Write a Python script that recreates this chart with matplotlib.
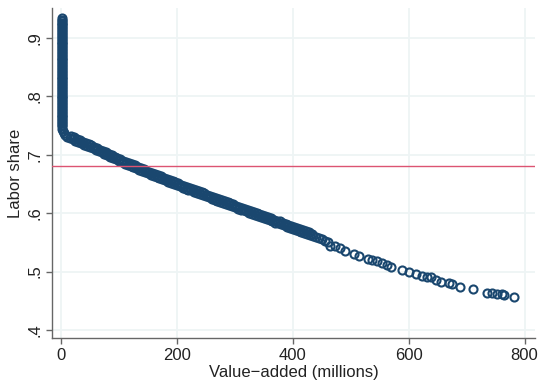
import matplotlib
matplotlib.use("Agg")
import matplotlib.pyplot as plt

# labor share against value-added, one hollow circle per firm
# near-zero firms (stacked at the left edge)
y_small = [.934, .9315, .929, .9265, .924, .9215, .919, .9165, .914, .9115,
           .909, .9065, .904, .9015, .899, .8965, .894, .8915, .889, .8865,
           .884, .8815, .879, .8765, .874, .8715, .869, .8665, .864, .8615,
           .859, .8565, .854, .8515, .849, .8465, .844, .8415, .839, .8365,
           .834, .8315, .829, .8265, .824, .8215, .819, .8165, .814, .8115,
           .809, .8065, .804, .8015, .799, .7965, .794, .7915, .789, .7865,
           .784, .7815, .779, .7765, .774, .7715, .769, .7665, .764, .7615,
           .759, .7565, .754, .7515, .749,
           .745, .741, .737, .734, .731]
x_small = [1] * 75 + [2, 3, 5, 7, 10]

# the dense band of mid-sized firms (lower edge of the band)
x_mid = [15, 20, 25, 30, 35, 40, 45, 50, 55, 60, 65, 70, 75, 80, 85, 90,
         95, 100, 105, 110, 115, 120, 125, 130, 135, 140, 145, 150, 155,
         160, 165, 170, 175, 180, 185, 190, 195, 200, 205, 210, 215, 220,
         225, 230, 235, 240, 245, 250, 255, 260, 265, 270, 275, 280, 285,
         290, 295, 300, 305, 310, 315, 320, 325, 330, 335, 340, 345, 350,
         355, 360, 365, 370, 375, 380, 385, 390, 395, 400, 405, 410, 415,
         420, 425, 430, 435, 440, 445, 450, 455, 460]
y_mid = [.729, .727, .724, .722, .720, .717, .715, .713, .711, .708, .706,
         .704, .701, .699, .697, .695, .692, .690, .688, .685, .683, .681,
         .679, .677, .674, .672, .670, .668, .666, .664, .662, .660, .658,
         .656, .654, .652, .650, .648, .646, .644, .642, .640, .639, .637,
         .635, .633, .631, .629, .627, .625, .623, .621, .620, .618, .616,
         .614, .612, .610, .608, .606, .605, .603, .601, .599, .597, .595,
         .594, .592, .590, .588, .586, .584, .583, .581, .579, .577, .575,
         .573, .572, .570, .568, .566, .564, .562, .561, .559, .557, .555,
         .553, .551]

# upper edge of the same band
x_mid_hi = [17.5, 22.5, 27.5, 32.5, 37.5, 42.5, 47.5, 52.5, 57.5, 62.5,
            67.5, 72.5, 77.5, 82.5, 87.5, 92.5, 97.5, 102.5, 107.5, 112.5,
            117.5, 122.5, 127.5, 132.5, 137.5, 142.5, 147.5, 152.5, 157.5,
            162.5, 167.5, 172.5, 177.5, 182.5, 187.5, 192.5, 197.5, 202.5,
            207.5, 212.5, 217.5, 222.5, 227.5, 232.5, 237.5, 242.5, 247.5,
            252.5, 257.5, 262.5, 267.5, 272.5, 277.5, 282.5, 287.5, 292.5,
            297.5, 302.5, 307.5, 312.5, 317.5, 322.5, 327.5, 332.5, 337.5,
            342.5, 347.5, 352.5, 357.5, 362.5, 367.5, 372.5, 377.5, 382.5,
            387.5, 392.5, 397.5, 402.5, 407.5, 412.5, 417.5, 422.5, 427.5,
            432.5]
y_mid_hi = [.732, .730, .727, .725, .722, .720, .718, .716, .713, .711,
            .709, .706, .704, .702, .700, .697, .695, .693, .690, .688,
            .686, .684, .682, .679, .677, .675, .673, .671, .669, .667,
            .665, .663, .661, .659, .657, .655, .653, .651, .649, .647,
            .645, .643, .642, .640, .638, .636, .634, .632, .630, .628,
            .626, .624, .623, .621, .619, .617, .615, .613, .611, .609,
            .608, .606, .604, .602, .600, .598, .597, .595, .593, .591,
            .589, .587, .586, .584, .582, .580, .578, .576, .575, .573,
            .571, .569, .567, .565]

# the few large firms on the right
x_big = [465, 473, 482, 490, 505, 515, 529, 537, 545, 554, 562, 569, 588,
         600, 613, 623, 632, 638, 648, 655, 669, 675, 688, 711, 735, 744,
         752, 761, 765, 782]
y_big = [.544, .543, .540, .536, .531, .527, .522, .520, .518, .515, .512,
         .508, .503, .499, .496, .492, .491, .490, .486, .483, .480, .478,
         .474, .470, .464, .463, .462, .461, .460, .456]

mean_share = 0.681

xs = x_small + x_mid + x_mid_hi + x_big
ys = y_small + y_mid + y_mid_hi + y_big

plt.rcParams['font.family'] = ['Liberation Sans', 'DejaVu Sans']

fig = plt.figure(figsize=(5.4, 3.8), dpi=100)
ax = fig.add_axes([0.0963, 0.1105, 0.8944, 0.8685])

grid_col = '#eef4f5'
for v in [0, 200, 400, 600, 800]:
    ax.axvline(v, color=grid_col, lw=1.3, zorder=0)
for v in [.4, .5, .6, .7, .8, .9]:
    ax.axhline(v, color=grid_col, lw=1.3, zorder=0)

ax.plot(xs, ys, 'o', ms=5.8, mfc='none', mec='#1a476f', mew=1.5, zorder=2)
ax.axhline(mean_share, color='#dc5472', lw=1.0, zorder=3)

ax.set_xlim(-15.5, 818)
ax.set_ylim(0.3863, 0.9514)
ax.set_xticks([0, 200, 400, 600, 800])
ax.set_yticks([.4, .5, .6, .7, .8, .9])
ax.set_yticklabels(['.4', '.5', '.6', '.7', '.8', '.9'], rotation=90, va='center')

for s in ['top', 'right']:
    ax.spines[s].set_visible(False)
for s in ['left', 'bottom']:
    ax.spines[s].set_color('#666666')
    ax.spines[s].set_linewidth(1.0)
ax.tick_params(colors='#666666', length=4, width=1.0, labelsize=12,
               labelcolor='#222222', pad=3)

ax.set_xlabel('Value\u2212added (millions)', fontsize=12, color='#222222', labelpad=1.5)
ax.set_ylabel('Labor share', fontsize=12, color='#222222', labelpad=3)

fig.savefig('out.png', dpi=100)
